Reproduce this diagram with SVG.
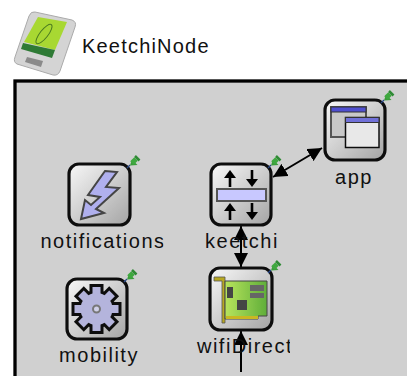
<svg xmlns="http://www.w3.org/2000/svg" width="407" height="376" viewBox="0 0 407 376">
<style>
text{font-family:"Liberation Sans",Arial,sans-serif;fill:#111}
.lbl{font-size:20px;letter-spacing:1.5px;text-anchor:middle}
.box{fill:url(#g);stroke:#111;stroke-width:3.2}
.conn{stroke:#000;stroke-width:2;fill:none}
.soft{filter:url(#b)}
</style>
<defs>
<filter id="b" x="-10%" y="-10%" width="120%" height="120%"><feGaussianBlur stdDeviation="0.45"/></filter>
<linearGradient id="g" x1="0" y1="0" x2="1" y2="1"><stop offset="0" stop-color="#f8f8f8"/><stop offset="1" stop-color="#a4a4a4"/></linearGradient>
<linearGradient id="pcb" x1="0" y1="0" x2="1" y2="0"><stop offset="0" stop-color="#b8e45c"/><stop offset="1" stop-color="#5fae3a"/></linearGradient>
<marker id="a" viewBox="0 0 14 14" refX="14" refY="7" markerWidth="14" markerHeight="14" markerUnits="userSpaceOnUse" orient="auto-start-reverse"><path d="M0 0L14 7L0 14Z" fill="#000"/></marker>
<clipPath id="c1"><rect x="30" y="225" width="133.500" height="30"/></clipPath>
<clipPath id="c2"><rect x="190" y="330" width="100" height="30"/></clipPath>
<g id="pin"><path d="M0 0L3 -3" stroke="#2a4a8a" stroke-width="1.300"/><path d="M3 -2.500L5 -8.500L10.500 -3Z" fill="#3a9c3a"/><path d="M5 -5L9 -9" stroke="#3fa83f" stroke-width="5"/><path d="M8 -12L12.500 -7.500" stroke="#2f8a35" stroke-width="2.500"/></g>
<rect id="tooth" x="-4" y="-22" width="8" height="10"/>
<g id="teeth"><use href="#tooth"/><use href="#tooth" transform="rotate(45)"/><use href="#tooth" transform="rotate(90)"/><use href="#tooth" transform="rotate(135)"/><use href="#tooth" transform="rotate(180)"/><use href="#tooth" transform="rotate(225)"/><use href="#tooth" transform="rotate(270)"/><use href="#tooth" transform="rotate(315)"/><circle r="16"/></g>
</defs>
<rect width="407" height="376" fill="#fff"/>
<g id="title">
<g id="nodeicon" class="soft">
<path d="M35 12L72 20Q77 22 75 27L60 71Q58 76 53 75L17 64Q13 62 15 57L29 16Q31 11 35 12Z" fill="#d4d4d4" stroke="#aaa"/>
<path d="M38 17L67 22L55 50L24 42Z" fill="#a8d832"/>
<path d="M23 43L55 50L52 58L21 49Z" fill="#2f7a35"/>
<ellipse cx="44" cy="34" rx="12" ry="4" transform="rotate(-52 44 34)" fill="none" stroke="#4a7a20"/>
<path d="M27 57L43 61L41 67L25 62Z" fill="#8a8a8a"/>
</g>
<text x="82" y="53" font-size="20" letter-spacing="1.200">KeetchiNode</text>
</g>
<rect id="frame" x="15" y="81" width="400" height="310" fill="#d0d0d0" stroke="#000" stroke-width="3.300"/>
<g id="connectors">
<path class="conn" d="M273 177L322 148" marker-start="url(#a)" marker-end="url(#a)"/>
<path class="conn" d="M241 226L241 267" marker-start="url(#a)" marker-end="url(#a)"/>
<path class="conn" d="M241 372L241 331" marker-end="url(#a)"/>
</g>
<g id="app">
<g class="soft">
<rect class="box" x="325" y="100" width="60" height="60" rx="10"/>
<rect x="331" y="107" width="35" height="30" fill="#c8c8c8" stroke="#555" stroke-width="2"/>
<rect x="331" y="107" width="35" height="5" fill="#5050d0" stroke="#333"/>
<rect x="345.500" y="117.500" width="33.500" height="30" fill="#e8e8e8" stroke="#111" stroke-width="1.500"/>
<rect x="345.500" y="117.500" width="33.500" height="5" fill="#7070d8" stroke="#333"/>
</g>
<use href="#pin" x="381" y="103"/>
<text class="lbl" x="354" y="184">app</text>
</g>
<g id="keetchi">
<g class="soft">
<rect class="box" x="211" y="164" width="60" height="61" rx="10"/>
<rect x="217" y="189" width="49" height="12" fill="#c8c8ff" stroke="#555" stroke-width="2"/>
<path d="M230 187V176M252 170V181M230 220V209M252 203V214" stroke="#000" stroke-width="2.600" fill="none"/>
<path d="M224 178L230 170L236 178ZM246 179L252 187L258 179ZM224 211L230 203L236 211ZM246 212L252 220L258 212Z" fill="#000"/>
</g>
<use href="#pin" x="268" y="168"/>
<text class="lbl" x="242" y="248">keetchi</text>
</g>
<g id="notifications">
<g class="soft">
<rect class="box" x="69" y="164" width="61" height="61" rx="10"/>
<path d="M105 171L117 172L106 187L119 188L96 209L104 213L81 219L85 200L91 205L100 197L88 195Z" fill="#b0b0ee" stroke="#444" stroke-width="2"/>
</g>
<use href="#pin" x="127" y="168"/>
<text class="lbl" clip-path="url(#c1)" x="103" y="248">notifications</text>
</g>
<g id="mobility">
<g class="soft">
<rect class="box" x="67" y="279" width="60" height="60" rx="10"/>
<use href="#teeth" transform="translate(96.500 309)" fill="#111" stroke="#111" stroke-width="6"/>
<use href="#teeth" transform="translate(96.500 309)" fill="#b4b4dc"/>
<circle cx="96.500" cy="309" r="3.500" fill="#d0d0e8" stroke="#777" stroke-width="2"/>
</g>
<use href="#pin" x="124" y="282"/>
<text class="lbl" x="99" y="362">mobility</text>
</g>
<g id="wifiDirect">
<g class="soft">
<rect class="box" x="210" y="268" width="62" height="62" rx="10"/>
<path d="M214 277H225V323H222V281H214Z" fill="#b8a820" stroke="#555" stroke-width=".8"/>
<path d="M225 281H267V316H258V319H225Z" fill="url(#pcb)" stroke="#444"/>
<rect x="226" y="316" width="32" height="3" fill="#c8b820"/>
<rect x="227" y="287" width="6" height="11" fill="#444"/>
<rect x="250" y="285" width="14" height="6" fill="#666"/>
<rect x="250" y="293" width="14" height="5" fill="#666"/>
<rect x="237" y="300" width="10" height="10" fill="#444"/>
</g>
<use href="#pin" x="268" y="273"/>
<text class="lbl" clip-path="url(#c2)" x="245" y="353">wifiDirect</text>
</g>
</svg>
